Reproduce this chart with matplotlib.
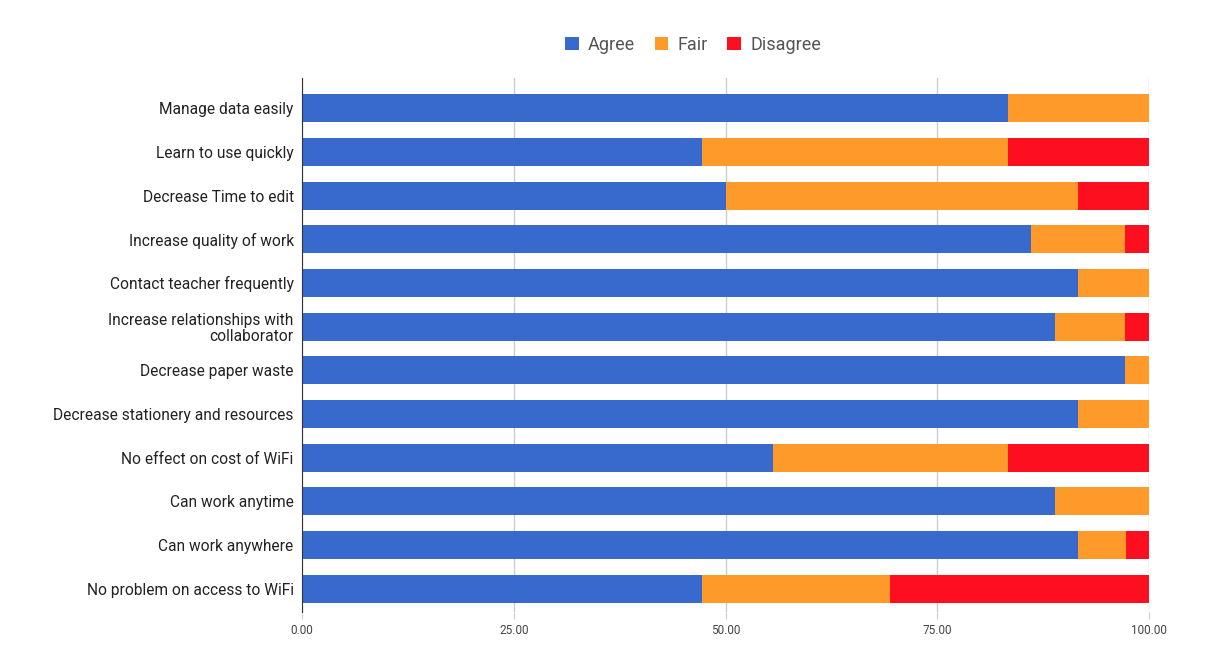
import matplotlib
matplotlib.use("Agg")
import matplotlib.pyplot as plt
import numpy as np
from matplotlib.patches import Patch

plt.rcParams["font.family"] = ["Roboto", "DejaVu Sans"]

categories = [
    "Manage data easily",
    "Learn to use quickly",
    "Decrease Time to edit",
    "Increase quality of work",
    "Contact teacher frequently",
    "Increase relationships with\ncollaborator",
    "Decrease paper waste",
    "Decrease stationery and resources",
    "No effect on cost of WiFi",
    "Can work anytime",
    "Can work anywhere",
    "No problem on access to WiFi",
]
agree = [83.33, 47.22, 50.00, 86.11, 91.67, 88.89, 97.22, 91.67, 55.56, 88.89, 91.67, 47.22]
fair = [16.67, 36.11, 41.67, 11.11, 8.33, 8.33, 2.78, 8.33, 27.78, 11.11, 5.56, 22.22]
disagree = [0.00, 16.67, 8.33, 2.78, 0.00, 2.78, 0.00, 0.00, 16.67, 0.00, 2.78, 30.56]
series = ["Agree", "Fair", "Disagree"]
colors = ["#3869cc", "#fe9a2a", "#fe0f1f"]
xticks = [0, 25, 50, 75, 100]

fig = plt.figure(figsize=(12.06, 6.57), dpi=100)
ax = fig.add_axes([302 / 1206, 1 - 612 / 657, 847 / 1206, 534 / 657])

y = np.arange(len(categories))
left = np.zeros(len(categories))
for vals, c in zip([agree, fair, disagree], colors):
    ax.barh(y, vals, left=left, height=0.64, color=c, zorder=3)
    left += np.array(vals)

ax.set_xlim(0, 100)
ax.set_ylim(11.53, -0.69)
ax.set_yticks(y)
ax.set_yticklabels(categories, fontsize=11.2, color="#222222", linespacing=1.05)
ax.tick_params(axis="y", length=0, pad=6)
ax.set_xticks(xticks)
ax.set_xticklabels([f"{t:.2f}" for t in xticks], fontsize=8.5, color="#444444")
ax.tick_params(axis="x", length=5, color="#cccccc", pad=4)
ax.grid(axis="x", color="#cccccc", linewidth=1, zorder=0)
for s in ["top", "right", "bottom"]:
    ax.spines[s].set_visible(False)
ax.spines["left"].set_color("#333333")
ax.spines["left"].set_zorder(4)

handles = [Patch(facecolor=c, label=s) for s, c in zip(series, colors)]
leg = fig.legend(handles=handles, loc="center", bbox_to_anchor=(693 / 1206, 1 - 45 / 657),
                 ncol=3, frameon=False, fontsize=13, handlelength=0.75, handleheight=0.75,
                 handletextpad=0.5, columnspacing=1.1)
for t in leg.get_texts():
    t.set_color("#555555")

fig.savefig("out.png", dpi=100)
